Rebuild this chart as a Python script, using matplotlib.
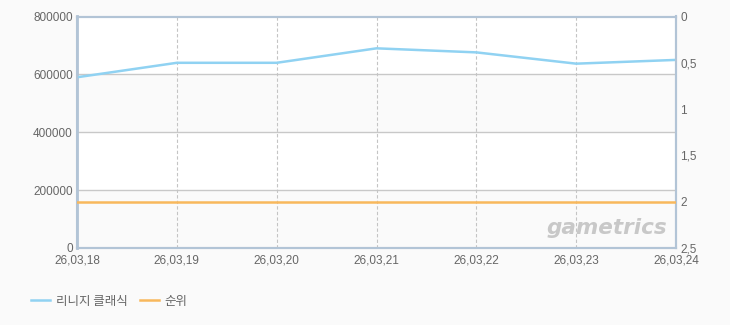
import matplotlib.pyplot as plt
from matplotlib.ticker import FuncFormatter

plt.rcParams['font.family'] = ['Noto Sans CJK KR', 'DejaVu Sans']

## 데이터
dates = ['26,03,18', '26,03,19', '26,03,20', '26,03,21', '26,03,22', '26,03,23', '26,03,24']
users = [590000, 640000, 640000, 690000, 676000, 637000, 650000]
rank = [2, 2, 2, 2, 2, 2, 2]
series_names = ['리니지 클래식', '순위']

blue = '#90d2f2'
orange = '#f8b85c'
edge = '#b2c4d6'
text_c = '#666666'

fig = plt.figure(figsize=(7.3, 3.25), dpi=100, facecolor='#fafafa')
ax = fig.add_axes([77 / 730, 77 / 325, 599 / 730, 231.5 / 325])
ax.set_facecolor('white')

x = list(range(len(dates)))

# 배경 띠
ax.axhspan(0, 200000, color='#fafafa', zorder=0, lw=0)
ax.axhspan(400000, 600000, color='#fafafa', zorder=0, lw=0)

# 격자
for yv in [200000, 400000, 600000]:
    ax.axhline(yv, color='#c8c8c8', lw=1, zorder=1)
for xv in x[1:-1]:
    ax.axvline(xv, color='#c4c4c4', lw=0.8, ls=(0, (3, 2)), zorder=1)

l1, = ax.plot(x, users, color=blue, lw=1.8, zorder=3, label=series_names[0])
ax.set_xlim(0, len(dates) - 1)
ax.set_ylim(0, 800000)
ax.set_yticks([0, 200000, 400000, 600000, 800000])
ax.set_yticklabels(['0', '200000', '400000', '600000', '800000'])
ax.set_xticks(x)
ax.set_xticklabels(dates)
ax.tick_params(length=0, colors=text_c, labelsize=8.5, pad=3)
ax.tick_params(axis='x', pad=5)

ax2 = ax.twinx()
l2, = ax2.plot(x, rank, color=orange, lw=1.8, zorder=3, label=series_names[1])
ax2.set_ylim(2.5, 0)
ax2.set_yticks([0, 0.5, 1, 1.5, 2, 2.5])
ax2.yaxis.set_major_formatter(FuncFormatter(lambda v, p: ('%g' % v).replace('.', ',')))
ax2.tick_params(length=0, colors=text_c, labelsize=8.5, pad=3)

for lab in ax.get_xticklabels() + ax.get_yticklabels() + ax2.get_yticklabels():
    lab.set_family('Liberation Sans')

for a in (ax, ax2):
    for s in a.spines.values():
        s.set_color(edge)
        s.set_linewidth(1.5)
ax.spines['left'].set_linewidth(2)

# 워터마크
ax.text(0.985, 0.045, 'gametrics', transform=ax.transAxes, ha='right', va='bottom',
        fontsize=15.5, fontstyle='italic', fontweight='bold', color='#c8c8c8',
        family='DejaVu Sans', zorder=2)

fig.legend(handles=[l1, l2], loc='lower left', bbox_to_anchor=(20 / 730, 6 / 325),
           ncol=2, frameon=False, fontsize=9, handlelength=1.5, handletextpad=0.45,
           columnspacing=1.0, labelcolor=text_c)

fig.savefig('out.png', dpi=100, facecolor=fig.get_facecolor())
